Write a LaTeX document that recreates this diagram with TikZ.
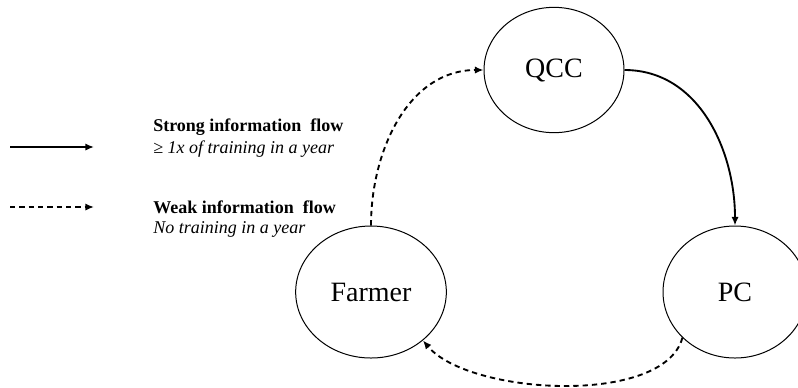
\documentclass[tikz,border=0pt]{standalone}
\usepackage{fontspec}
\setmainfont{Liberation Serif}
\usetikzlibrary{shapes.geometric,arrows.meta}
\begin{document}
\begin{tikzpicture}[x=0.75pt,y=-0.75pt,
  party/.style={draw, ellipse, line width=0.75pt, inner sep=0pt,
    font=\fontsize{21}{24}\selectfont},
  strongflow/.style={line width=1.4pt, -{Latex[length=6.5pt,width=5.5pt]}},
  weakflow/.style={line width=1.4pt, dash pattern=on 4pt off 3pt,
    -{Latex[length=6.5pt,width=5.5pt]}},
  legendhead/.style={anchor=west, inner sep=0pt, font=\fontsize{13.5}{16}\selectfont\bfseries},
  legendnote/.style={anchor=west, inner sep=0pt, font=\fontsize{13.5}{16}\selectfont\itshape}]
\useasboundingbox (0,0) rectangle (798,387);

% actors
\node[party, minimum width=105pt, minimum height=94pt] (qcc) at (554,70) {QCC};
\node[party, minimum width=113pt, minimum height=99pt] (farmer) at (371,292) {Farmer};
\node[party, minimum width=108pt, minimum height=99pt] (pc) at (735,292) {PC};

% flows between actors
\draw[strongflow] (qcc.east) to[out=0, in=90] (pc.north);
\draw[weakflow] (farmer.north) to[out=90, in=180] (qcc.west);
\draw[weakflow] (pc.221) to[out=-105, in=-50, looseness=0.7] (farmer.-43);

% legend
\coordinate (sa) at (10,147);
\coordinate (sb) at (94,147);
\coordinate (wa) at (10,207);
\coordinate (wb) at (94,207);
\draw[strongflow] (sa) -- (sb);
\draw[weakflow] (wa) -- (wb);
\node[legendhead] (sh) at (153,127) {Strong information\ \ flow};
\node[legendnote] (sn) at (153,149) {≥ 1x of training in a year};
\node[legendhead] (wh) at (153,207) {Weak information\ \ flow};
\node[legendnote] (wn) at (153,229) {No training in a year};
\end{tikzpicture}
\end{document}
